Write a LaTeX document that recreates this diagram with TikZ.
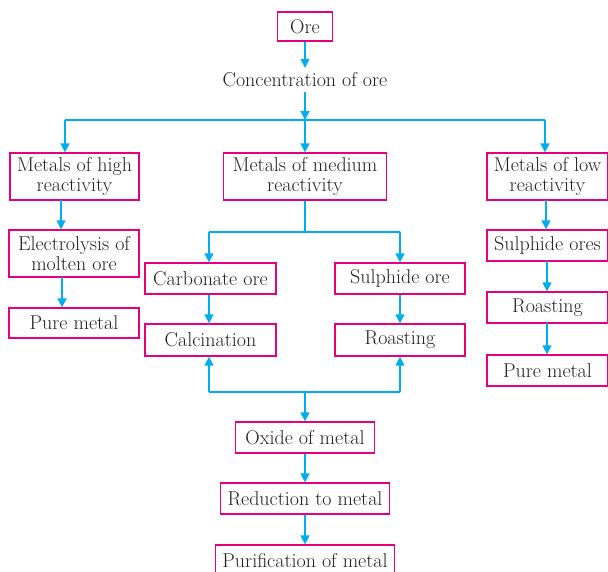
\documentclass[tikz,border=0pt]{standalone}
\usetikzlibrary{arrows.meta}
\definecolor{pinkc}{HTML}{E6007E}
\definecolor{bluec}{HTML}{00AEEF}
\definecolor{txt}{HTML}{231F20}
\begin{document}
\begin{tikzpicture}[x=1pt,y=-1pt,
  box/.style={draw=pinkc,line width=1.3pt,align=center,inner sep=0pt,text=txt,font=\fontsize{20}{20}\selectfont},
  lbl/.style={align=center,inner sep=0pt,text=txt,font=\fontsize{20}{20}\selectfont},
  ln/.style={draw=bluec,line width=1.4pt},
  arr/.style={ln,-{Triangle[width=9pt,length=9pt]}}]
\useasboundingbox (0,0) rectangle (608,572);
\begin{scope}
\clip (0,0) rectangle (608,572);
% nodes
\node[box,minimum width=55pt,minimum height=29pt] (ore) at (305,26.5) {Ore};
\node[lbl,minimum height=24pt] (conc) at (305,80) {Concentration of ore};
\node[box,minimum width=129pt,minimum height=47pt] (high) at (74.5,176.5) {Metals of high\\reactivity};
\node[box,minimum width=130pt,minimum height=47pt] (elec) at (74,253.5) {Electrolysis of\\molten ore};
\node[box,minimum width=130pt,minimum height=30pt] (pure1) at (74,323) {Pure metal};
\node[box,minimum width=163pt,minimum height=47pt] (med) at (305,176.5) {Metals of medium\\reactivity};
\node[box,minimum width=131pt,minimum height=31pt] (carb) at (210.5,278.5) {Carbonate ore};
\node[box,minimum width=130pt,minimum height=31pt] (sulph) at (400,278.5) {Sulphide ore};
\node[box,minimum width=131pt,minimum height=32pt] (calc) at (210.5,340) {Calcination};
\node[box,minimum width=130pt,minimum height=32pt] (roast) at (400,340) {Roasting};
\node[box,minimum width=139pt,minimum height=31pt] (oxide) at (305,437.5) {Oxide of metal};
\node[box,minimum width=169pt,minimum height=31pt] (red) at (305,498.5) {Reduction to metal};
\node[box,minimum width=179pt,minimum height=32pt] (puri) at (305,561) {Purification of metal};
\node[box,minimum width=121pt,minimum height=47pt] (low) at (547.5,176.5) {Metals of low\\reactivity};
\node[box,minimum width=121pt,minimum height=31pt] (sulphs) at (547.5,245.5) {Sulphide ores};
\node[box,minimum width=121pt,minimum height=31pt] (roast2) at (547.5,307.5) {Roasting};
\node[box,minimum width=121pt,minimum height=31pt] (pure2) at (547.5,370.5) {Pure metal};
% junctions
\coordinate (j1) at (305,120);
\coordinate (jl) at (65,120);
\coordinate (jr) at (545,120);
\coordinate (m1) at (305,232);
\coordinate (ml) at (209,232);
\coordinate (mr) at (400,232);
\coordinate (b1) at (305,392);
\coordinate (bl) at (209,392);
\coordinate (br) at (400,392);
\coordinate (h1) at (61,200);
\coordinate (e1) at (62,277);
\coordinate (l1) at (546,200);
\coordinate (l2) at (547,261);
\coordinate (l3) at (547,323);
% connectors
\draw[arr] (ore.south) -- (conc.north);
\draw[arr] (conc.south) -- (j1);
\draw[ln] (jl) -- (jr);
\draw[arr] (jl) -- (jl |- high.north);
\draw[arr] (j1) -- (med.north);
\draw[arr] (jr) -- (jr |- low.north);
\draw[arr] (h1) -- (h1 |- elec.north);
\draw[arr] (e1) -- (e1 |- pure1.north);
\draw[ln] (med.south) -- (m1);
\draw[ln] (ml) -- (mr);
\draw[arr] (ml) -- (ml |- carb.north);
\draw[arr] (mr) -- (mr |- sulph.north);
\draw[arr] (ml |- carb.south) -- (ml |- calc.north);
\draw[arr] (mr |- sulph.south) -- (mr |- roast.north);
\draw[ln] (bl) -- (br);
\draw[arr] (bl) -- (bl |- calc.south);
\draw[arr] (br) -- (br |- roast.south);
\draw[arr] (b1) -- (oxide.north);
\draw[arr] (oxide.south) -- (red.north);
\draw[arr] (red.south) -- (puri.north);
\draw[arr] (l1) -- (l1 |- sulphs.north);
\draw[arr] (l2) -- (l2 |- roast2.north);
\draw[arr] (l3) -- (l3 |- pure2.north);
\end{scope}
\end{tikzpicture}
\end{document}
